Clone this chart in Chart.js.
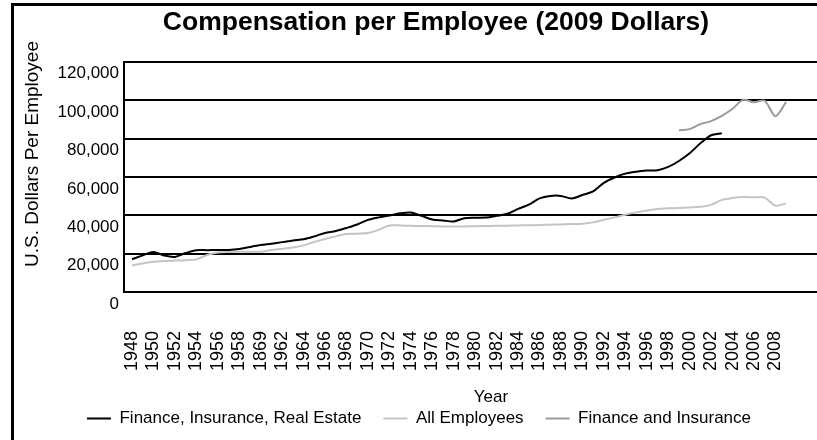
<!DOCTYPE html>
<html>
<head>
<meta charset="utf-8">
<script src="https://cdn.jsdelivr.net/npm/chart.js@4.4.1/dist/chart.umd.min.js"></script>
<style>
  html, body { margin: 0; padding: 0; background: #fff; overflow: hidden; }
  #frame { position: absolute; left: 11px; top: 3px; width: 900px; height: 500px;
           border-left: 3px solid #000; border-top: 3px solid #000; }
  #wrap { position: absolute; left: 14px; top: 0; width: 844px; height: 457px; }
</style>
</head>
<body>
<div id="frame"></div>
<div id="wrap"><canvas id="compChart"></canvas></div>
<script>
// years on the x axis
const years = [1948, 1949, 1950, 1951, 1952, 1953, 1954, 1955, 1956, 1957,
               1958, 1959, 1960, 1961, 1962, 1963, 1964, 1965, 1966, 1967,
               1968, 1969, 1970, 1971, 1972, 1973, 1974, 1975, 1976, 1977,
               1978, 1979, 1980, 1981, 1982, 1983, 1984, 1985, 1986, 1987,
               1988, 1989, 1990, 1991, 1992, 1993, 1994, 1995, 1996, 1997,
               1998, 1999, 2000, 2001, 2002, 2003, 2004, 2005, 2006, 2007,
               2008, 2009];

// Finance, Insurance, Real Estate: 1948 - 2003
const fire = [17100, 19100, 20900, 19000, 18300, 20300, 21800, 21800, 21900, 21900,
              22400, 23500, 24500, 25200, 26000, 26900, 27500, 29000, 30800, 31800,
              33400, 35200, 37600, 38900, 39900, 41000, 41400, 39700, 37800, 37300,
              36800, 38400, 38700, 38800, 39700, 40800, 43300, 45500, 48800, 50100,
              50100, 48800, 50600, 52400, 56900, 59700, 61700, 62700, 63300, 63500,
              65200, 68300, 72300, 77500, 81700, 82800];

// All Employees: 1948 - 2009
const allEmployees = [13800, 14900, 15800, 16200, 16400, 16600, 17000, 19300, 20600, 20900,
                      21000, 21000, 21000, 21900, 22500, 23200, 24300, 26100, 27600, 29000,
                      30200, 30400, 30800, 32400, 34700, 34700, 34500, 34400, 34300, 34200,
                      34100, 34200, 34300, 34400, 34500, 34600, 34700, 34800, 34900, 35100,
                      35200, 35400, 35600, 36300, 37600, 38900, 40300, 41500, 42500, 43300,
                      43600, 43800, 44100, 44400, 45400, 48000, 49000, 49500, 49400, 49200,
                      45000, 46200];

// Finance and Insurance: 1999 - 2009
const finInsStart = 1999;
const finIns = [84300, 84900, 87500, 89100, 91800, 95500, 100200, 98900, 99700, 91600, 99100];

// tick labels as printed on the original (one of them is a typo)
const tickYears = [1948, 1950, 1952, 1954, 1956, 1958, 1960, 1962, 1964, 1966, 1968,
                   1970, 1972, 1974, 1976, 1978, 1980, 1982, 1984, 1986, 1988, 1990,
                   1992, 1994, 1996, 1998, 2000, 2002, 2004, 2006, 2008];
const tickLabels = ['1948', '1950', '1952', '1954', '1956', '1958', '1869', '1962', '1964', '1966', '1968',
                    '1970', '1972', '1974', '1976', '1978', '1980', '1982', '1984', '1986', '1988', '1990',
                    '1992', '1994', '1996', '1998', '2000', '2002', '2004', '2006', '2008'];

const toPoints = (values, startYear) => {
    const offset = years.indexOf(startYear);
    return values.map((v, i) => ({ x: years[offset + i], y: v }));
};

Chart.defaults.font.family = "'Liberation Sans', Arial, sans-serif";
Chart.defaults.font.size = 17;
Chart.defaults.color = '#000';

// y axis title is drawn by hand so it can sit a bit above the middle
const yTitle = {
    id: 'yTitle',
    afterDraw(chart) {
        const c = chart.ctx;
        c.save();
        c.font = "19px 'Liberation Sans', Arial, sans-serif";
        c.fillStyle = '#000';
        c.translate(24, 154);
        c.rotate(-Math.PI / 2);
        c.textAlign = 'center';
        c.textBaseline = 'alphabetic';
        c.fillText('U.S. Dollars Per Employee', 0, 0);
        c.restore();
    }
};

// legend sits a little left of the title in the original, and close under "Year"
const legendShift = {
    id: 'legendShift',
    afterLayout(chart) {
        const lg = chart.legend;
        lg.left -= 17; lg.right -= 17;
        lg.top -= 20; lg.bottom -= 20;
    }
};

const ctx = document.getElementById('compChart');
new Chart(ctx, {
    type: 'line',
    data: {
        datasets: [{
            label: 'Finance, Insurance, Real Estate',
            data: toPoints(fire, 1948),
            borderColor: '#000',
            backgroundColor: '#000'
        }, {
            label: 'All Employees',
            data: toPoints(allEmployees, 1948),
            borderColor: '#c4c4c4',
            backgroundColor: '#c4c4c4'
        }, {
            label: 'Finance and Insurance',
            data: toPoints(finIns, finInsStart),
            borderColor: '#9a9a9a',
            backgroundColor: '#9a9a9a'
        }]
    },
    options: {
        responsive: true,
        maintainAspectRatio: false,
        animation: false,
        layout: { padding: { top: 7, left: 0, right: 0, bottom: 0 } },
        elements: {
            point: { radius: 0 },
            line: { borderWidth: 2, tension: 0.3 }
        },
        scales: {
            x: {
                type: 'linear',
                min: 1947.25,
                max: 2015.7,
                grid: { display: false, drawTicks: false },
                border: { display: true, color: '#000', width: 2 },
                afterBuildTicks: axis => { axis.ticks = tickYears.map(v => ({ value: v })); },
                afterFit: axis => { axis.height = 116; },
                ticks: {
                    autoSkip: false,
                    minRotation: 90,
                    maxRotation: 90,
                    padding: 39,
                    font: { size: 18 },
                    callback: (v, i) => tickLabels[i]
                },
                title: { display: true, text: 'Year', padding: { top: 0, bottom: 0 } }
            },
            y: {
                min: 0,
                max: 120000,
                grid: { color: '#000', lineWidth: 2, drawTicks: false },
                border: { display: true, color: '#000', width: 2 },
                afterFit: axis => { axis.width = 110; },
                ticks: { stepSize: 20000, padding: 5, labelOffset: 12 }
            }
        },
        plugins: {
            title: {
                display: true,
                text: 'Compensation per Employee (2009 Dollars)',
                font: { size: 26.5, weight: 'bold' },
                padding: { top: 0, bottom: 23 }
            },
            legend: {
                position: 'bottom',
                labels: {
                    boxWidth: 24,
                    boxHeight: 2,
                    padding: 22,
                    generateLabels: chart => Chart.defaults.plugins.legend.labels.generateLabels(chart)
                        .map(l => ({ ...l, fillStyle: l.strokeStyle, lineWidth: 0 }))
                }
            },
            tooltip: { enabled: false }
        }
    },
    plugins: [yTitle, legendShift]
});
</script>
</body>
</html>
